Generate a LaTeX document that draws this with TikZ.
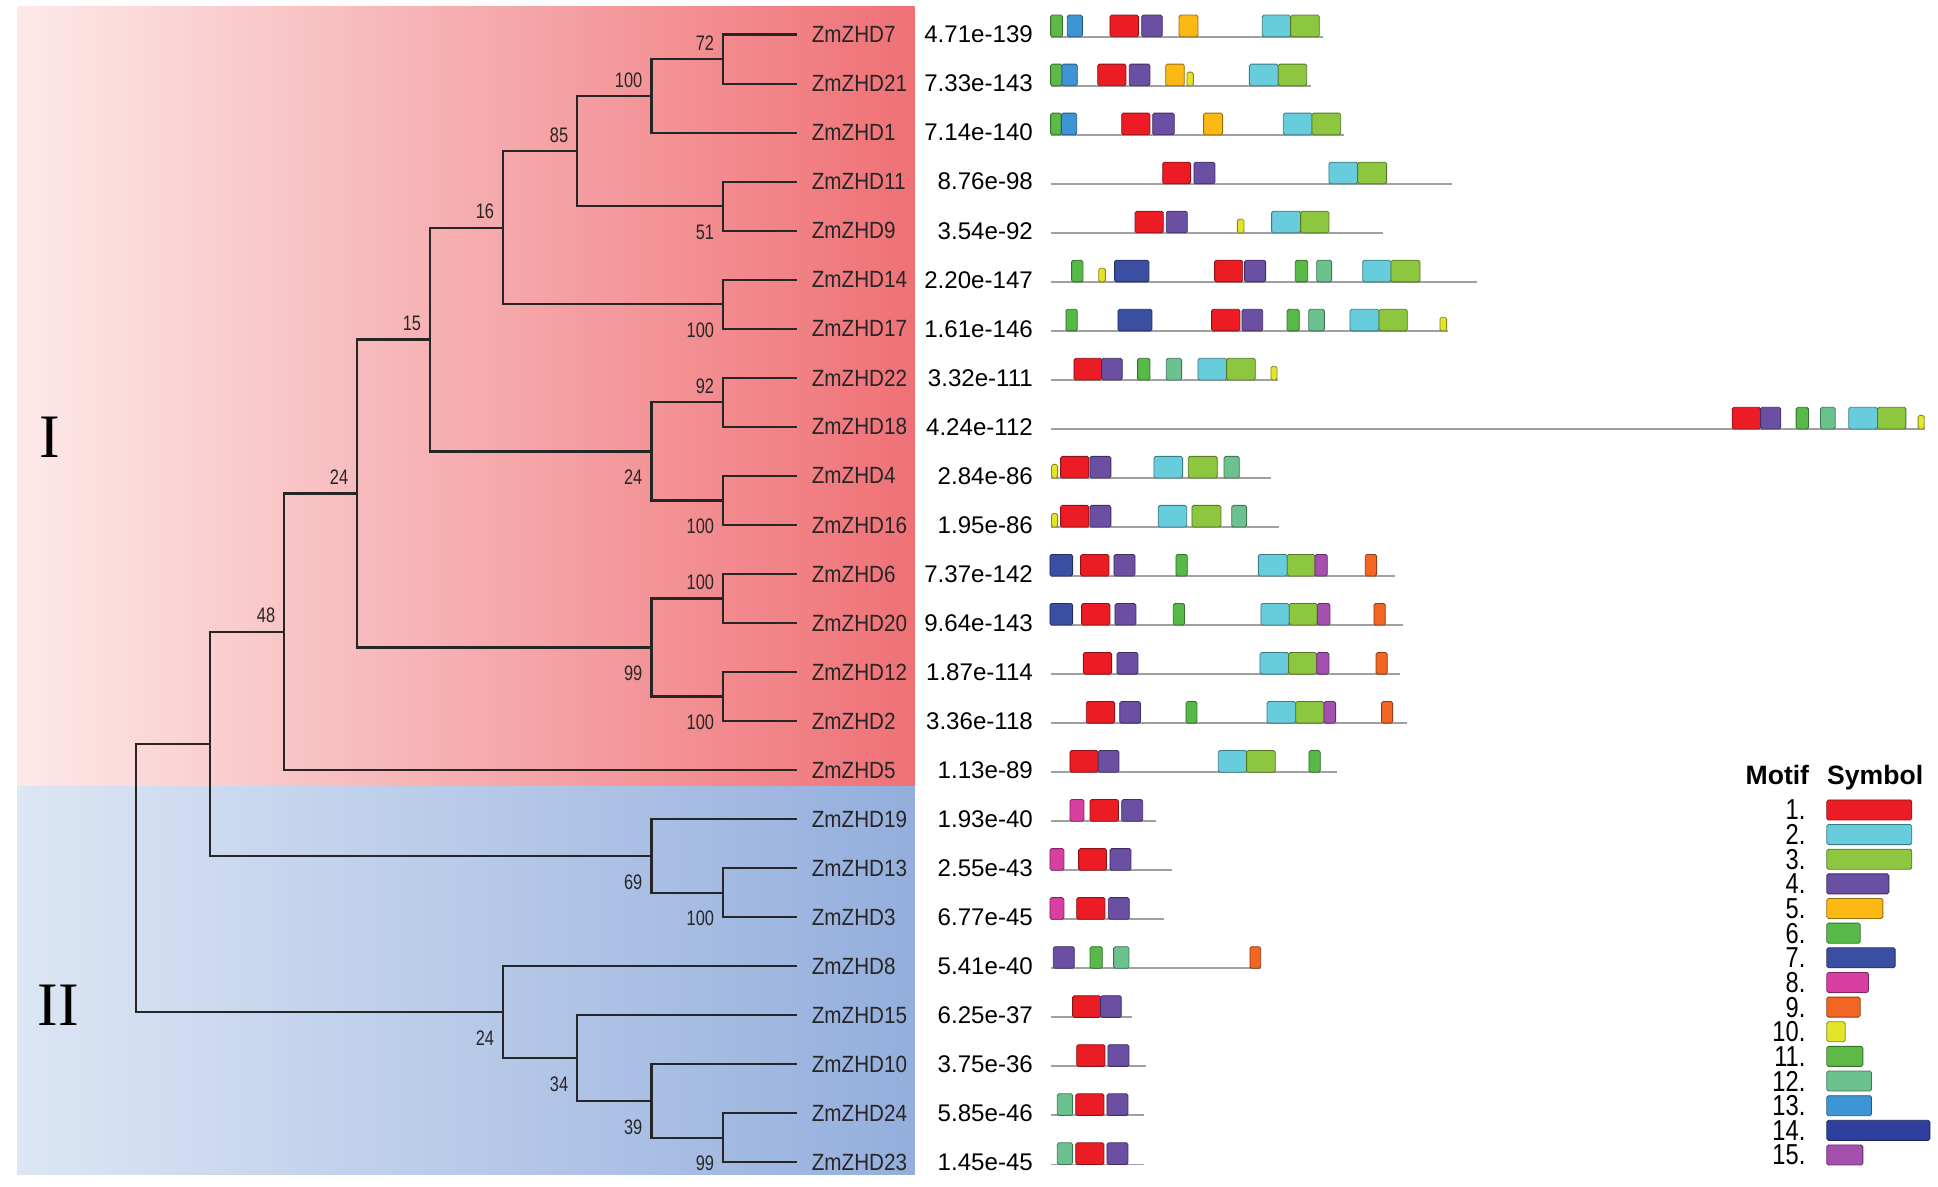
\documentclass[tikz,border=0pt]{standalone}
\usepackage{fontspec}
\setmainfont{Liberation Sans}
\newfontfamily\leaffont[FakeStretch=0.88]{Liberation Sans}
\newfontfamily\bsfont[FakeStretch=0.78]{Liberation Sans}
\newfontfamily\numfont[FakeStretch=0.82]{Liberation Sans}
\newfontfamily\romfont{Liberation Serif}
\usetikzlibrary{positioning}

\definecolor{mc1}{HTML}{EC1C24}
\definecolor{mc2}{HTML}{67CCDB}
\definecolor{mc3}{HTML}{8DC63F}
\definecolor{mc4}{HTML}{6A4FA3}
\definecolor{mc5}{HTML}{FDB913}
\definecolor{mc6}{HTML}{57B947}
\definecolor{mc7}{HTML}{3A4FA2}
\definecolor{mc8}{HTML}{D93FA0}
\definecolor{mc9}{HTML}{F26522}
\definecolor{mc10}{HTML}{E3E52B}
\definecolor{mc11}{HTML}{5DBA47}
\definecolor{mc12}{HTML}{6CC28F}
\definecolor{mc13}{HTML}{3E95D5}
\definecolor{mc14}{HTML}{2E3F9E}
\definecolor{mc15}{HTML}{A54FAF}
\definecolor{redL}{HTML}{FDE9E9}
\definecolor{redR}{HTML}{EF7176}
\definecolor{blueL}{HTML}{DCE6F4}
\definecolor{blueR}{HTML}{94AEDD}
\definecolor{stemgray}{HTML}{A0A0A0}

\newcommand{\gene}[3]{%
	\pgfmathsetmacro{\rowy}{29.7+39.67*#1}
	\draw[stem] (850,\rowy) -- (#2,\rowy);
	\foreach \a/\b/\m in {#3} {
		\pgfmathsetmacro{\boxh}{ifthenelse(\m==10,11,17.5)}
		\draw[box=\m] (\a,\rowy) rectangle (\b,\rowy-\boxh);
	}}

\begin{document}
\begin{tikzpicture}[x=0.6pt, y=-0.6pt,
	branch/.style={line width=1.1pt, draw=black!85},
	leaf/.style={anchor=west, inner xsep=6.9pt, inner ysep=0pt, text=black!85,
		font={\leaffont\fontsize{11.4}{13}\selectfont}},
	ev/.style={anchor=east, inner sep=0pt, font={\fontsize{11.7}{13}\selectfont}},
	bs/.style={anchor=east, inner sep=0pt, xshift=-4.2pt, text=black!85,
		font={\bsfont\fontsize{10.2}{11}\selectfont}},
	bsup/.style={bs, yshift=7.8pt},
	bsdown/.style={bs, yshift=-12.6pt},
	roman/.style={inner sep=0pt, font={\romfont\fontsize{30}{32}\selectfont}},
	ttl/.style={inner sep=0pt, font={\bfseries\fontsize{12.9}{14}\selectfont}},
	num/.style={anchor=east, inner sep=0pt, font={\numfont\fontsize{14}{15}\selectfont}},
	stem/.style={line width=0.9pt, draw=stemgray},
	box/.style={fill=mc#1, draw=mc#1!60!black, line width=0.4pt, rounded corners=0.8pt}
	]
	\useasboundingbox (0,0) rectangle (1568,960.3);
	\shade[left color=redL, right color=redR] (14,5) rectangle (740,636);
	\shade[left color=blueL, right color=blueR] (14,636) rectangle (740,950);
	\node[roman] (gI) at (40,354) {I};
	\node[roman] (gII) at (47,813) {II};

	\foreach \n/\e [count=\i from 0] in {7/4.71e-139,21/7.33e-143,1/7.14e-140,11/8.76e-98,
		9/3.54e-92,14/2.20e-147,17/1.61e-146,22/3.32e-111,18/4.24e-112,4/2.84e-86,
		16/1.95e-86,6/7.37e-142,20/9.64e-143,12/1.87e-114,2/3.36e-118,5/1.13e-89,
		19/1.93e-40,13/2.55e-43,3/6.77e-45,8/5.41e-40,15/6.25e-37,10/3.75e-36,
		24/5.85e-46,23/1.45e-45}
	{
		\node[leaf] (zhd\n) at (645,{28+39.67*\i}) {ZmZHD\n};
		\node[ev] (ev\n) at (836,{28+39.67*\i}) {\e};
	}

	\coordinate (a72) at (585,47.84);
	\coordinate (a100) at (527,77.59);
	\coordinate (a51) at (585,166.85);
	\coordinate (a85) at (467,122.22);
	\coordinate (a100b) at (585,246.19);
	\coordinate (a16) at (407,184.2);
	\coordinate (a92) at (585,325.53);
	\coordinate (a100c) at (585,404.87);
	\coordinate (a24) at (527,365.2);
	\coordinate (a15) at (348,274.7);
	\coordinate (a100d) at (585,484.2);
	\coordinate (a100e) at (585,563.55);
	\coordinate (a99) at (527,523.87);
	\coordinate (a24b) at (289,399.29);
	\coordinate (a48) at (230,511.17);
	\coordinate (a100f) at (585,722.23);
	\coordinate (a69) at (527,692.47);
	\coordinate (a170) at (170,601.82);
	\coordinate (a99b) at (585,920.57);
	\coordinate (a39) at (527,890.82);
	\coordinate (a34) at (467,856.11);
	\coordinate (a24c) at (407,818.92);
	\coordinate (root) at (110,710.37);

	\foreach \p/\c in {a72/zhd7.west, a72/zhd21.west, a100/a72, a100/zhd1.west,
		a51/zhd11.west, a51/zhd9.west, a85/a100, a85/a51,
		a100b/zhd14.west, a100b/zhd17.west, a16/a85, a16/a100b,
		a92/zhd22.west, a92/zhd18.west, a100c/zhd4.west, a100c/zhd16.west,
		a24/a92, a24/a100c, a15/a16, a15/a24,
		a100d/zhd6.west, a100d/zhd20.west, a100e/zhd12.west, a100e/zhd2.west,
		a99/a100d, a99/a100e, a24b/a15, a24b/a99, a48/a24b, a48/zhd5.west,
		a100f/zhd13.west, a100f/zhd3.west, a69/zhd19.west, a69/a100f,
		a170/a48, a170/a69, a99b/zhd24.west, a99b/zhd23.west,
		a39/zhd10.west, a39/a99b, a34/zhd15.west, a34/a39,
		a24c/zhd8.west, a24c/a34, root/a170, root/a24c}
		\draw[branch] (\p) |- (\c);

	\node[bsup] (b72) at (a72) {72};
	\node[bsup] (b100) at (a100) {100};
	\node[bsup] (b85) at (a85) {85};
	\node[bsdown] (b51) at (a51) {51};
	\node[bsup] (b16) at (a16) {16};
	\node[bsdown] (b100b) at (a100b) {100};
	\node[bsup] (b15) at (a15) {15};
	\node[bsup] (b92) at (a92) {92};
	\node[bsdown] (b24) at (a24) {24};
	\node[bsdown] (b100c) at (a100c) {100};
	\node[bsup] (b24b) at (a24b) {24};
	\node[bsup] (b100d) at (a100d) {100};
	\node[bsdown] (b99) at (a99) {99};
	\node[bsdown] (b100e) at (a100e) {100};
	\node[bsup] (b48) at (a48) {48};
	\node[bsdown] (b69) at (a69) {69};
	\node[bsdown] (b100f) at (a100f) {100};
	\node[bsdown] (b24c) at (a24c) {24};
	\node[bsdown] (b34) at (a34) {34};
	\node[bsdown] (b39) at (a39) {39};
	\node[bsdown] (b99b) at (a99b) {99};

	\gene{0}{1070.6}{850/859.7/11, 863.5/875.7/13, 898/921.2/1, 923.7/940.4/4, 953.9/969.2/5, 1021.3/1044.2/2, 1044.2/1067.4/3}
	\gene{1}{1060.4}{850/859.2/11, 859.2/871.6/13, 888.1/911/1, 913.7/930.4/4, 943.1/958.2/5, 960.3/965.5/10, 1010.8/1034.2/2, 1034.2/1057.2/3}
	\gene{2}{1087.4}{850/858.7/11, 858.7/871.1/13, 907.5/930.4/1, 932.6/950.1/4, 973.8/989.2/5, 1038.3/1061.5/2, 1061.5/1084.7/3}
	\gene{3}{1174.5}{940.7/963.3/1, 966/983/4, 1075.2/1098.4/2, 1098.4/1121.9/3}
	\gene{4}{1119.2}{918.3/941.2/1, 943.6/960.6/4, 1001.1/1006.5/10, 1028.8/1052.3/2, 1052.3/1075.2/3}
	\gene{5}{1194.7}{867/876.2/6, 888.9/894.3/10, 901.8/929.6/7, 982.7/1005.4/1, 1007/1024/4, 1048/1058/6, 1065.3/1077.4/12, 1102.5/1125.4/2, 1125.4/1148.9/3}
	\gene{6}{1171.8}{862.4/871.6/6, 904.5/932/7, 980.3/1003.2/1, 1004.8/1021.6/4, 1041.3/1051.2/6, 1058.8/1071.5/12, 1092.2/1115.7/2, 1115.7/1138.6/3, 1165/1170.4/10}
	\gene{7}{1034.2}{868.9/891.3/1, 891.3/908/4, 920.4/930.4/6, 943.6/956/12, 969.2/992.4/2, 992.4/1015.6/3, 1028.3/1033.2/10}
	\gene{8}{1557.3}{1401.5/1424.4/1, 1424.4/1440.8/4, 1453.2/1463.2/6, 1472.9/1484.8/12, 1495.8/1519/2, 1519/1542/3, 1551.9/1556.8/10}
	\gene{9}{1028.3}{850.8/855.7/10, 858.1/881/1, 881.9/898.8/4, 933.6/956.8/2, 961.4/984.9/3, 990.3/1002.7/12}
	\gene{10}{1035}{850.8/855.7/10, 858.1/881/1, 881.9/898.8/4, 937.1/960.1/2, 964.4/987.8/3, 996.5/1008.6/12}
	\gene{11}{1128.6}{849.5/867.8/7, 874.3/897.2/1, 901.3/918.3/4, 951.4/960.6/6, 1018.1/1041.5/2, 1041.5/1063.9/3, 1063.9/1073.9/15, 1104.6/1113.8/9}
	\gene{12}{1135.4}{849.5/867.8/7, 875.1/898/1, 902.1/919.1/4, 949.3/958.4/6, 1020.2/1043.1/2, 1043.1/1065.8/3, 1065.8/1076/15, 1111.6/1120.8/9}
	\gene{13}{1132.7}{876.5/899.4/1, 903.7/920.7/4, 1019.4/1042.6/2, 1042.6/1065.3/3, 1065.3/1075.2/15, 1113.3/1122.4/9}
	\gene{14}{1138.1}{878.9/901.8/1, 905.9/922.8/4, 959.5/968.4/6, 1025.1/1048.3/2, 1048.3/1071.2/3, 1071.2/1080.6/15, 1117.8/1126.7/9}
	\gene{15}{1081.4}{865.7/888.6/1, 888.6/905.3/4, 985.7/1008.6/2, 1008.6/1031.8/3, 1059/1068.2/6}
	\gene{16}{935.3}{865.7/877/8, 881.9/905/1, 907.5/924.5/4}
	\gene{17}{947.9}{849.5/860.8/8, 872.7/895.3/1, 898/915/4}
	\gene{18}{941.7}{849.5/860.8/8, 871.1/894/1, 896.7/913.7/4}
	\gene{19}{1020}{852.2/869.2/4, 881.9/891.8/6, 901/913.4/12, 1011.3/1020/9}
	\gene{20}{916.1}{867.8/890.5/1, 890.5/907.2/4}
	\gene{21}{927.2}{871.1/894/1, 896.4/913.4/4}
	\gene{22}{925.5}{855.4/867.8/12, 870.3/893.2/1, 895.6/912.6/4}
	\gene{23}{925.5}{855.4/867.8/12, 870.3/893.2/1, 895.6/912.6/4}

	\node[ttl, anchor=base east] (motif) at (1464,635) {Motif};
	\node[ttl, anchor=base west] (symbol) at (1478,635) {Symbol};
	\foreach \k/\w in {1/1546.8, 2/1546.8, 3/1546.8, 4/1528.2, 5/1523.4, 6/1505,
		7/1533.3, 8/1511.8, 9/1505, 10/1492.9, 11/1507.2, 12/1514.2, 13/1514.2,
		14/1561.4, 15/1507.2}
	{
		\node[num] (num\k) at (1461,{655.3+19.94*(\k-1)}) {\k.};
		\draw[box=\k] (1478,{647.2+19.94*(\k-1)}) rectangle (\w,{663.4+19.94*(\k-1)});
	}
\end{tikzpicture}
\end{document}
